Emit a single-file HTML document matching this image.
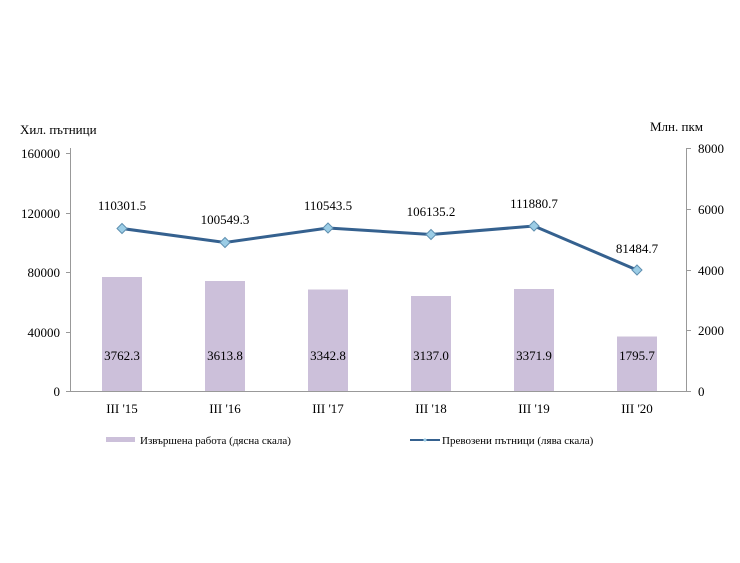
<!DOCTYPE html>
<html><head><meta charset="utf-8"><style>body{margin:0;background:#fff}svg{display:block}text{font-family:"Liberation Serif",serif;fill:#000}</style></head>
<body>
<svg width="740" height="563" viewBox="0 0 740 563">
<text x="20" y="134" font-size="13">Хил. пътници</text>
<text x="650" y="131" font-size="13">Млн. пкм</text>
<g font-size="13" text-anchor="end">
<text x="60" y="158">160000</text><text x="60" y="218">120000</text><text x="60" y="277">80000</text><text x="60" y="337">40000</text><text x="60" y="396">0</text>
</g>
<g font-size="13">
<text x="698" y="153">8000</text><text x="698" y="214">6000</text><text x="698" y="275">4000</text><text x="698" y="335">2000</text><text x="698" y="396">0</text>
</g>
<g stroke="#999" stroke-width="1" fill="none">
<line x1="70.5" y1="148" x2="70.5" y2="391"/><line x1="686.5" y1="148" x2="686.5" y2="391"/>
<line x1="70" y1="391.5" x2="687" y2="391.5"/>
<path d="M66 153.5h4M66 213.5h4M66 272.5h4M66 332.5h4M66 391.5h4M687 148.5h4M687 209.5h4M687 270.5h4M687 330.5h4M687 391.5h4"/>
</g>
<g fill="#ccc0da">
<rect x="102" y="277" width="40" height="114"/>
<rect x="205" y="281" width="40" height="110"/>
<rect x="308" y="289.5" width="40" height="101.5"/>
<rect x="411" y="296" width="40" height="95"/>
<rect x="514" y="289" width="40" height="102"/>
<rect x="617" y="336.5" width="40" height="54.5"/>
</g>
<g font-size="13" text-anchor="middle">
<text x="122" y="360">3762.3</text><text x="225" y="360">3613.8</text><text x="328" y="360">3342.8</text><text x="431" y="360">3137.0</text><text x="534" y="360">3371.9</text><text x="637" y="360">1795.7</text>
<text x="122" y="210">110301.5</text><text x="225" y="224">100549.3</text><text x="328" y="210">110543.5</text><text x="431" y="216">106135.2</text><text x="534" y="208">111880.7</text><text x="637" y="253">81484.7</text>
<text x="122" y="413">III '15</text><text x="225" y="413">III '16</text><text x="328" y="413">III '17</text><text x="431" y="413">III '18</text><text x="534" y="413">III '19</text><text x="637" y="413">III '20</text>
</g>
<polyline points="122,228.5 225,242.5 328,228 431,234.5 534,226 637,270" fill="none" stroke="#35618f" stroke-width="3"/>
<g fill="#9ccde6" stroke="#5f8fb0" stroke-width="1">
<path d="M122 223.5l5 5-5 5-5-5z"/><path d="M225 237.5l5 5-5 5-5-5z"/><path d="M328 223l5 5-5 5-5-5z"/><path d="M431 229.5l5 5-5 5-5-5z"/><path d="M534 221l5 5-5 5-5-5z"/><path d="M637 265l5 5-5 5-5-5z"/>
</g>
<rect x="106" y="437" width="29" height="5" fill="#ccc0da"/>
<text x="140" y="444" font-size="11">Извършена работа (дясна скала)</text>
<line x1="410" y1="440" x2="440" y2="440" stroke="#35618f" stroke-width="2"/>
<path d="M425 438l2 2-2 2-2-2z" fill="#9ccde6"/>
<text x="442" y="444" font-size="11">Превозени пътници (лява скала)</text>
</svg>
</body></html>
